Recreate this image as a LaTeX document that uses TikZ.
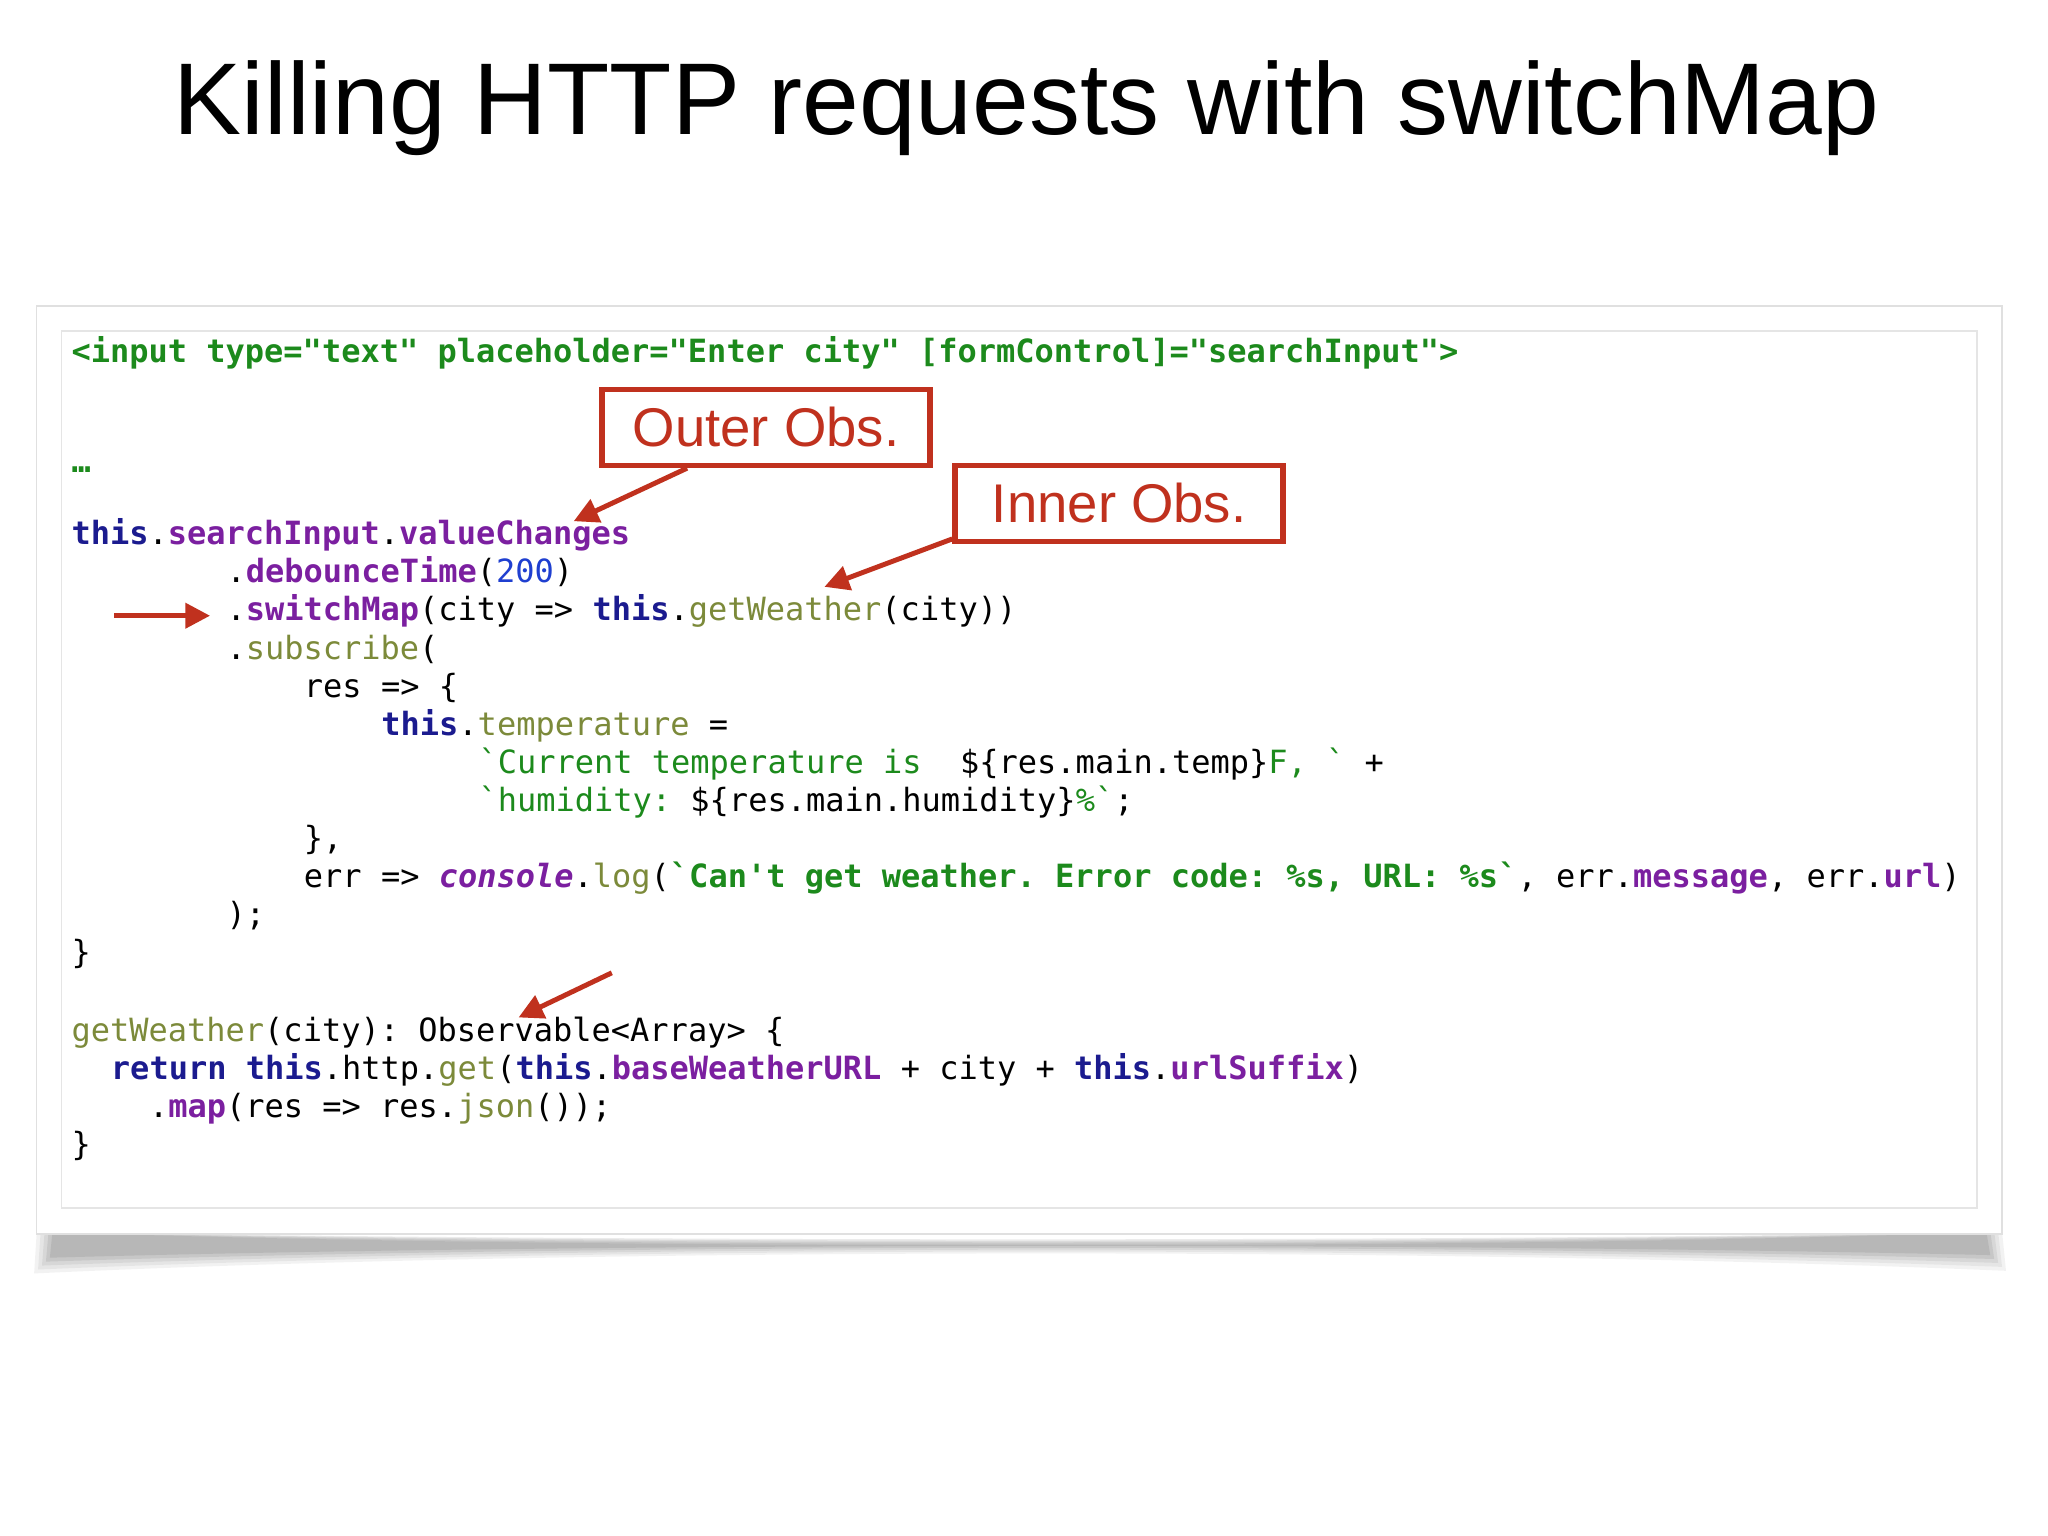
\documentclass[tikz,border=0pt]{standalone}
\usepackage{fontspec}
\setmainfont{Liberation Sans}
\setmonofont{DejaVu Sans Mono}
\usetikzlibrary{arrows.meta}
\definecolor{kwb}{HTML}{1B1B8F}
\definecolor{prp}{HTML}{7B1FA0}
\definecolor{olv}{HTML}{7C8A3A}
\definecolor{strg}{HTML}{1C8A1C}
\definecolor{num}{HTML}{1F3FD0}
\definecolor{obsred}{HTML}{C0311E}
\newcommand\KW[1]{\textcolor{kwb}{\bfseries #1}}
\newcommand\PR[1]{\textcolor{prp}{\bfseries #1}}
\newcommand\FN[1]{\textcolor{olv}{#1}}
\newcommand\ST[1]{\textcolor{strg}{#1}}
\newcommand\SB[1]{\textcolor{strg}{\bfseries #1}}
\tikzset{
  code/.style={anchor=base west,inner sep=0pt,font=\fontsize{9.1}{11}\ttfamily},
  obsbox/.style={draw=obsred,line width=1.6pt,text=obsred,font=\fontsize{15.5}{18}\selectfont,minimum width=3.28cm,minimum height=0.76cm,inner sep=0pt},
  redarr/.style={draw=obsred,line width=1.4pt,-{Triangle[length=7pt,width=7pt]}}
}
\begin{document}
\begin{tikzpicture}[x=0.013128cm,y=-0.013128cm]
\useasboundingbox (0,0) rectangle (1560,1170);
\fill[white] (0,0) rectangle (1560,1170);
% shadow
\foreach \o/\d in {0.05/0,0.05/3,0.06/6,0.07/9,0.08/12}{
  \fill[black,opacity=\o] (28+\d,938) .. controls (400,952-\d*0.5) and (1160,952-\d*0.5) .. (1525-\d,938) -- (1528-\d,968-\d) .. controls (1100,950-\d*0.3) and (450,950-\d*0.3) .. (26+\d,970-\d) -- cycle;}
\node (title) at (782,82) {\fontsize{29}{35}\selectfont Killing HTTP requests with switchMap};
\draw[black!12,fill=white] (28,233) rectangle (1525,940);
\draw[black!10] (47,252) rectangle (1506,920);
\node[code] (l1) at (54,276) {\SB{<input type="text" placeholder="Enter city" [formControl]="searchInput">}};
\node[code] (l2) at (54,360) {\SB{…}};
\node[code] (l3) at (54,415) {\KW{this}.\PR{searchInput}.\PR{valueChanges}};
\node[code] (l4) at (172,444) {.\PR{debounceTime}(\textcolor{num}{200})};
\node[code] (l5) at (172,473) {.\PR{switchMap}(city => \KW{this}.\FN{getWeather}(city))};
\node[code] (l6) at (172,502) {.\FN{subscribe}(};
\node[code] (l7) at (231,531) {res => \{};
\node[code] (l8) at (290,560) {\KW{this}.\FN{temperature} =};
\node[code] (l9) at (364,589) {\ST{`Current temperature is\ \ }\$\{res.main.temp\}\ST{F, ` }+};
\node[code] (l10) at (364,618) {\ST{`humidity: }\$\{res.main.humidity\}\ST{\%`};};
\node[code] (l11) at (231,647) {\},};
\node[code] (l12) at (231,676) {err => \textcolor{prp}{\bfseries\itshape console}.\FN{log}(\SB{`Can't get weather. Error code: \%s, URL: \%s`}, err.\PR{message}, err.\PR{url})};
\node[code] (l13) at (172,705) {);};
\node[code] (l14) at (54,734) {\}};
\node[code] (l15) at (54,793) {\FN{getWeather}(city): Observable<Array> \{};
\node[code] (l16) at (84,822) {\KW{return} \KW{this}.http.\FN{get}(\KW{this}.\PR{baseWeatherURL} + city + \KW{this}.\PR{urlSuffix})};
\node[code] (l17) at (113,851) {.\PR{map}(res => res.\FN{json}());};
\node[code] (l18) at (54,880) {\}};
\node[obsbox] (outer) at (583.5,325.5) {Outer Obs.};
\node[obsbox] (inner) at (852.5,383.5) {Inner Obs.};
\coordinate (a1) at (437,397);
\coordinate (a2) at (628,447);
\coordinate (s1) at (87,469);
\coordinate (s2) at (160,469);
\coordinate (g1) at (466,741);
\coordinate (g2) at (395,775);
\draw[redarr] (outer.south west) ++(67,0) -- (a1);
\draw[redarr] (inner.west) ++(0,27) -- (a2);
\draw[redarr] (s1) -- (s2);
\draw[redarr] (g1) -- (g2);
\end{tikzpicture}
\end{document}
